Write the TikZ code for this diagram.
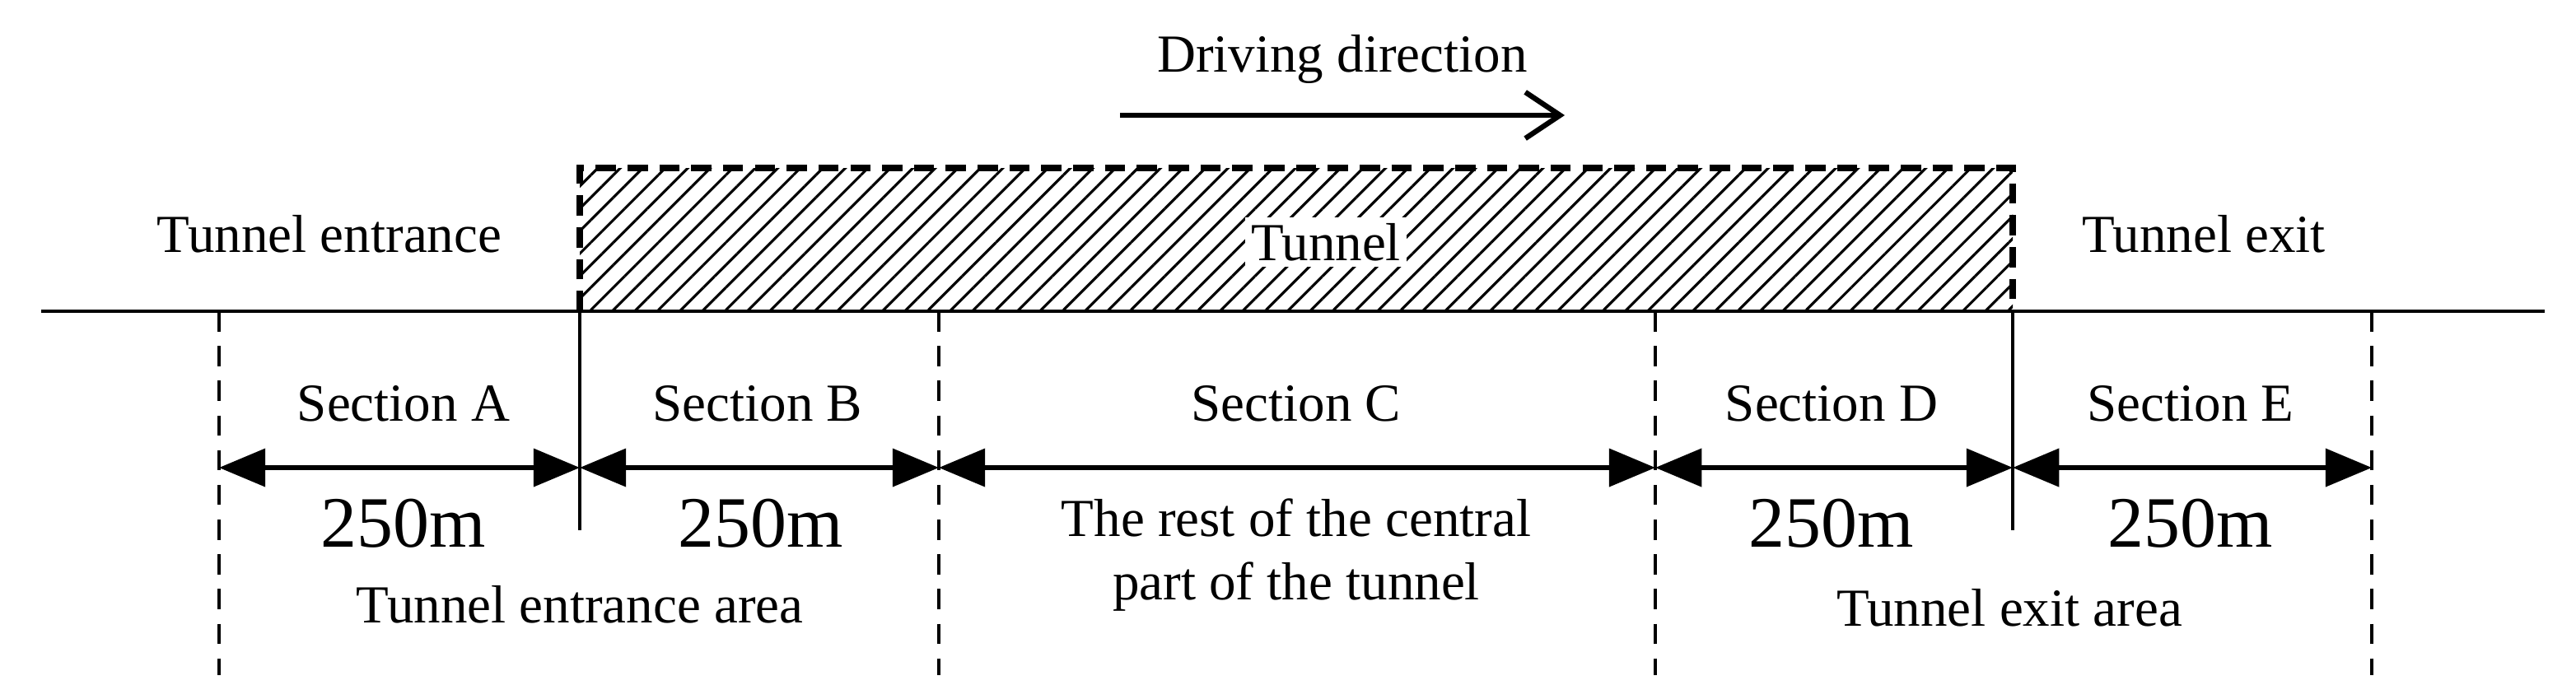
\documentclass[tikz,border=0pt]{standalone}
\usepackage{fontspec}
\setmainfont{Liberation Serif}
\usetikzlibrary{patterns.meta,arrows.meta}
\begin{document}
\begin{tikzpicture}[x=0.02cm,y=-0.02cm,
  lbl/.style={font=\fontsize{18.5}{22}\selectfont},
  big/.style={font=\fontsize{25}{28}\selectfont},
  dim/.style={line width=1.5pt,{Triangle[length=16pt,width=13pt]}-{Triangle[length=16pt,width=13pt]}},
  dsh/.style={line width=1.1pt,dash pattern=on 7pt off 5pt}]
\useasboundingbox (0,0) rectangle (1564,424);
\fill[pattern={Lines[angle=45,distance=5.5pt,line width=0.9pt]}] (352,102) rectangle (1222,189);
\draw[line width=2.2pt,dash pattern=on 7pt off 4pt] (352,189) -- (352,102) -- (1222,102) -- (1222,189);
\draw[line width=1.1pt] (25,189) -- (1545,189);
\foreach \n/\x in {a/133,c/570,d/1005,f/1440} {
  \coordinate (\n t) at (\x,189); \coordinate (\n b) at (\x,410); \coordinate (\n m) at (\x,284);
  \draw[dsh] (\n t) -- (\n b);}
\foreach \n/\x in {b/352,e/1222} {
  \coordinate (\n t) at (\x,189); \coordinate (\n b) at (\x,322); \coordinate (\n m) at (\x,284);
  \draw[line width=1.1pt] (\n t) -- (\n b);}
\draw[dim] (am) -- (bm);
\draw[dim] (bm) -- (cm);
\draw[dim] (cm) -- (dm);
\draw[dim] (dm) -- (em);
\draw[dim] (em) -- (fm);
\node[lbl] (sA) at (245,245) {Section A};
\node[lbl] (sB) at (460,245) {Section B};
\node[lbl] (sC) at (787,245) {Section C};
\node[lbl] (sD) at (1112,245) {Section D};
\node[lbl] (sE) at (1330,245) {Section E};
\node[big] (m1) at (245,318) {250m};
\node[big] (m2) at (462,318) {250m};
\node[big] (m3) at (1112,318) {250m};
\node[big] (m4) at (1330,318) {250m};
\node[lbl,align=center] (rest) at (787,337) {The rest of the central\\part of the tunnel};
\node[lbl] (ea) at (352,367) {Tunnel entrance area};
\node[lbl] (xa) at (1220,369) {Tunnel exit area};
\node[lbl] (te) at (200,142) {Tunnel entrance};
\node[lbl,fill=white,inner sep=2pt] (tn) at (805,147) {Tunnel};
\node[lbl] (tx) at (1338,142) {Tunnel exit};
\node[lbl] (dd) at (815,36) {Driving direction};
\coordinate (d1) at (680,70); \coordinate (d2) at (950,70);
\draw[line width=1.8pt,-{Straight Barb[length=12pt,width=16pt]}] (d1) -- (d2);
\end{tikzpicture}
\end{document}
